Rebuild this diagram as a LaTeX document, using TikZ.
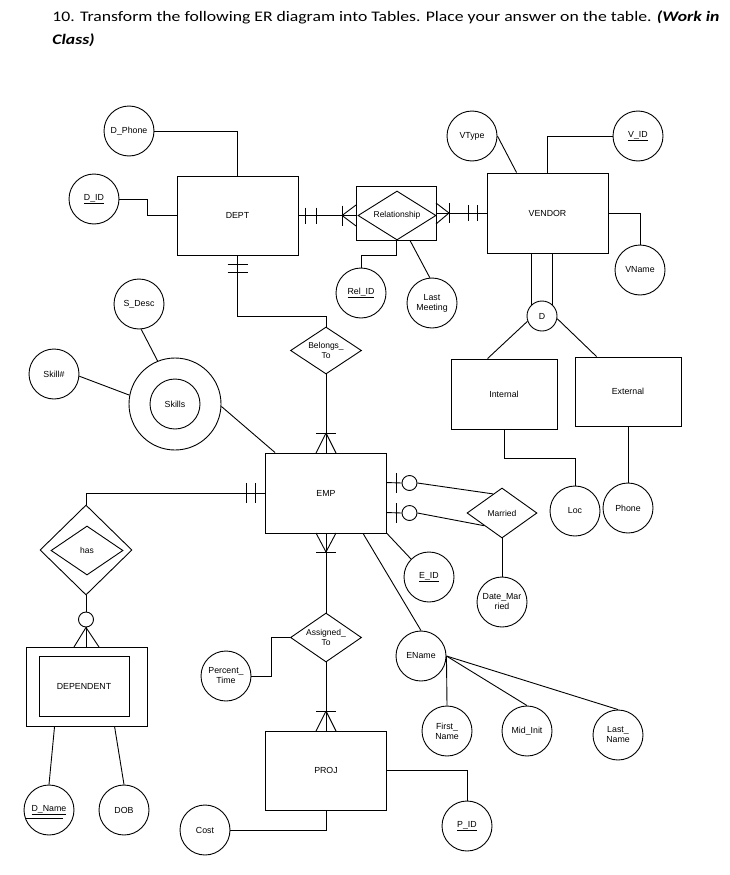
\documentclass[tikz,border=0pt]{standalone}
\usepackage{fontspec}
\setmainfont{Liberation Sans}
\newfontfamily\titlefont[FakeStretch=1.21]{Carlito}
\usetikzlibrary{shapes.geometric,calc}
\begin{document}
\begin{tikzpicture}[x=1pt,y=-1pt, line width=0.9pt,
  every node/.style={font=\fontsize{8.8}{10}\selectfont, inner sep=0pt, align=center},
  attr/.style={circle, draw, minimum size=50pt},
  ent/.style={draw, rectangle},
  rel/.style={diamond, draw, aspect=1.5, font=\fontsize{8.5}{9.3}\selectfont},
  titletext/.style={anchor=base west, font=\titlefont\fontsize{14.6}{17}\selectfont}]
\useasboundingbox (0,0) rectangle (730,875);

% title
\node[titletext] (t1) at (52,22) {10. Transform the following ER diagram into Tables. Place your answer on the table. \textbf{\textit{(Work in}}};
\node[titletext] (t2) at (52,45) {\textbf{\textit{Class)}}};

% entities
\node[ent, minimum width=121pt, minimum height=79pt] (dept) at (237.5,215.5) {DEPT};
\node[ent, minimum width=121pt, minimum height=80pt] (vendor) at (547.5,213) {VENDOR};
\node[ent, minimum width=80pt, minimum height=54pt] (relbox) at (396,213) {};
\node[rel, minimum width=78pt, minimum height=49pt] (reldia) at (397,215.5) {Relationship};
\node[ent, minimum width=121pt, minimum height=80pt] (emp) at (326,493) {EMP};
\node[ent, minimum width=121pt, minimum height=79pt] (proj) at (326,770.5) {PROJ};
\node[ent, minimum width=106pt, minimum height=70pt] (internal) at (504,394) {Internal};
\node[ent, minimum width=106pt, minimum height=69pt] (external) at (628,391.5) {External};
\node[ent, minimum width=121pt, minimum height=79pt] (dep) at (86.5,686.5) {};
\node[ent, minimum width=90pt, minimum height=60pt] (depin) at (84,686) {DEPENDENT};

% relationships
\node[rel, minimum width=71pt, minimum height=47pt] (belongs) at (326,350.5) {Belongs\_\\To};
\node[rel, minimum width=71pt, minimum height=49pt] (assigned) at (326,637.5) {Assigned\_\\To};
\node[rel, minimum width=70pt, minimum height=50pt] (married) at (502,513) {Married};
\node[rel, minimum width=92pt, minimum height=90pt] (has) at (86,550) {};
\node[rel, minimum width=72pt, minimum height=49pt] (hasin) at (87,550.5) {has};

% attributes
\node[attr] (dphone) at (129,131) {D\_Phone};
\node[attr] (did) at (94,199) {\underline{D\_ID}};
\node[attr] (relid) at (361,293) {\underline{Rel\_ID}};
\node[attr] (lastm) at (432,303) {Last\\Meeting};
\node[attr] (vtype) at (472,136) {VType};
\node[attr] (vid) at (638,136) {\underline{V\_ID}};
\node[attr] (vname) at (640,270) {VName};
\node[attr, minimum size=30pt] (dsub) at (542,316) {D};
\node[attr] (loc) at (575,511) {Loc};
\node[attr] (phone) at (628,508) {Phone};
\node[attr, minimum size=92pt] (skillsout) at (175,404) {};
\node[attr] (skills) at (175,404) {Skills};
\node[attr] (sdesc) at (139,304) {S\_Desc};
\node[attr] (skillnum) at (54,374) {Skill\#};
\node[attr] (eid) at (429,577) {\underline{E\_ID}};
\node[attr] (datem) at (502,602) {Date\_Mar\\ried};
\node[attr] (ename) at (421,656) {EName};
\node[attr] (first) at (447,731) {First\_\\Name};
\node[attr] (mid) at (527,731) {Mid\_Init};
\node[attr] (lastn) at (618,735) {Last\_\\Name};
\node[attr] (percent) at (226,676) {Percent\_\\Time};
\node[attr] (cost) at (205,830) {Cost};
\node[attr] (pid) at (467,826) {\underline{P\_ID}};
\node[attr] (dname) at (49,810) {\underline{D\_Name}};
\node[attr] (dob) at (124,810) {DOB};
\node[circle, draw, minimum size=15pt] (hasopt) at (86,619.5) {};

% DEPT attributes
\draw (dphone.east) -| (dept.north);
\draw (did.east) -- ++(28,0) |- (dept.west);

% DEPT -- Relationship -- VENDOR
\draw (dept.east) -- (dept.east -| relbox.west);
\draw (305,207.5) -- (305,223.5);
\draw (316,207.5) -- (316,223.5);
\draw (342,205.5) -- (342,225.5);
\draw (342,215.5) -- (356,205);
\draw (342,215.5) -- (356,226);
\draw (relbox.east) -- (vendor.west);
\draw (449,203) -- (449,223);
\draw (449,213) -- (436,203);
\draw (449,213) -- (436,224);
\draw (468,205) -- (468,221);
\draw (477,205) -- (477,221);

% Relationship attributes
\draw (relbox.south) -- ++(0,15) -| (relid.north);
\draw ($(relbox.south)+(14,0)$) -- (lastm.95);

% VENDOR attributes and subtypes
\draw (vtype.east) -- ($(vendor.north west)+(30,0)$);
\draw (vid.west) -| (vendor.north);
\draw (vendor.east) -| (vname.north);
\draw (dsub.132) -- (dsub.132 |- vendor.south);
\draw (dsub.48) -- (dsub.48 |- vendor.south);
\draw (dsub.200) -- ($(internal.north west)+(37,0)$);
\draw (dsub.-10) -- ($(external.north west)+(22,0)$);
\draw (internal.south) -- ++(0,29) -| (loc.north);
\draw (external.south) -- (phone.north);

% Skills
\draw (sdesc.-85) -- (skillsout.112);
\draw (skillnum.-5) -- (skillsout.169);
\draw (skillsout.-3) -- ($(emp.north west)+(10,0)$);

% DEPT -- Belongs_To -- EMP
\draw (dept.south) -- ++(0,61) -| (belongs.north);
\draw (227.5,264) -- (247.5,264);
\draw (227.5,272) -- (247.5,272);
\draw (belongs.south) -- (emp.north);
\draw (316,433) -- (336,433);
\draw (326,433) -- (316,453);
\draw (326,433) -- (336,453);

% EMP -- Assigned_To -- PROJ
\draw (emp.south) -- (assigned.north);
\draw (316,552) -- (336,552);
\draw (326,552) -- (316,533);
\draw (326,552) -- (336,533);
\draw (assigned.south) -- (proj.north);
\draw (316,711) -- (336,711);
\draw (326,711) -- (316,731);
\draw (326,711) -- (336,731);
\draw (percent.east) -- ++(20,0) |- (assigned.west);
\draw (cost.east) -| (proj.south);
\draw (proj.east) -| (pid.north);

% EMP -- has -- DEPENDENT
\draw (emp.west) -| (has.north);
\draw (246,483) -- (246,503);
\draw (255,483) -- (255,503);
\draw (has.south) -- (hasopt.north);
\draw (hasopt.south) -- (86,647);
\draw (hasopt.south) -- (74,647);
\draw (hasopt.south) -- (99,647);
\draw ($(dep.south west)+(29,0)$) -- (dname.north);
\draw ($(dep.south west)+(89,0)$) -- (dob.north);
\draw ($(dname.center)+(-23,8)$) -- ++(37,0);

% EMP -- Married
\node[circle, draw, minimum size=15pt] (mc1) at (409.5,483) {};
\node[circle, draw, minimum size=15pt] (mc2) at (409.5,513) {};
\draw ($(emp.north east)+(0,30)$) -- (mc1.west);
\draw ($(emp.north east)+(0,60)$) -- (mc2.west);
\draw (396,473) -- (396,493);
\draw (396,503) -- (396,523);
\draw (mc1.east) -- ($(married.west)!0.75!(married.north)$);
\draw (mc2.east) -- ($(married.west)!0.5!(married.south)$);
\draw (married.south) -- (datem.north);

% EMP attributes
\draw (emp.south east) -- (eid.north west);
\draw ($(emp.south west)+(98,0)$) -- (ename.north);
\draw (ename.east) -- (first.north);
\draw (ename.east) -- (mid.north);
\draw (ename.east) -- (lastn.north);
\end{tikzpicture}
\end{document}
